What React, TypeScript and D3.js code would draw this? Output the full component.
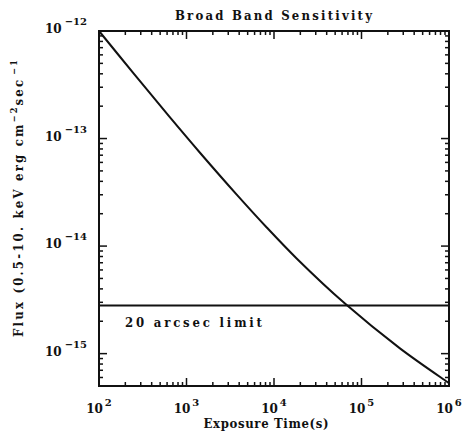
import * as d3 from 'd3';

// exposure time (s) vs. limiting flux
const exposureTimes = [100, 247, 620, 1426, 3750, 8260, 18150, 64700, 275000, 940000, 1000000];
const fluxValues = [1e-12, 4.06e-13, 1.64e-13, 7.38e-14, 3.01e-14, 1.49e-14, 7.67e-15, 2.92e-15, 1.12e-15, 5.51e-16, 5.32e-16];

const limitFlux = 2.8e-15;
const limitLabel = '20  arcsec  limit';

const xDomain = [1e2, 1e6];
const yDomain = [5e-16, 1e-12];
const xMajorExps = ['2', '3', '4', '5', '6'];
const yMajorExps = ['−12', '−13', '−14', '−15'];

const title = 'Broad  Band  Sensitivity';
const xTitle = 'Exposure  Time(s)';

const FONT = "'DejaVu Serif', 'Liberation Serif', serif";
const INK = '#111';

export default function App() {
  const margin = { left: 99, top: 31, right: 449, bottom: 386 };
  const x = d3.scaleLog().domain(xDomain).range([margin.left, margin.right]);
  const y = d3.scaleLog().domain(yDomain).range([margin.bottom, margin.top]);

  const line = d3
    .line<number>()
    .x((_d, i) => x(exposureTimes[i]))
    .y((d) => y(d))
    .curve(d3.curveCatmullRom.alpha(0.5));

  const isMajor = (v: number) => Math.abs(Math.log10(v) - Math.round(Math.log10(v))) < 1e-6;
  const xTicks = x.ticks();
  const yTicks = y.ticks();
  const majorLen = 8;
  const minorLen = 4;

  return (
    <svg width={469} height={445} style={{ display: 'block', position: 'absolute', left: 0, top: 0 }}>
      <rect width={469} height={445} fill="#fff" />

      <text x={273.5} y={19.5} fontFamily={FONT} fontWeight="bold" fontSize={13} fontStretch="condensed"
        textAnchor="middle" textLength={197} lengthAdjust="spacing" fill={INK}>
        {title}
      </text>

      {/* x ticks, bottom and top, pointing inward */}
      {xTicks.map((t, i) => {
        const len = isMajor(t) ? majorLen : minorLen;
        return (
          <g key={'xt' + i} stroke={INK} strokeWidth={1.5}>
            <line x1={x(t)} x2={x(t)} y1={margin.bottom} y2={margin.bottom - len} />
            <line x1={x(t)} x2={x(t)} y1={margin.top} y2={margin.top + len} />
          </g>
        );
      })}
      {yTicks.map((t, i) => {
        const len = isMajor(t) ? majorLen : minorLen;
        return (
          <g key={'yt' + i} stroke={INK} strokeWidth={1.5}>
            <line x1={margin.left} x2={margin.left + len} y1={y(t)} y2={y(t)} />
            <line x1={margin.right} x2={margin.right - len} y1={y(t)} y2={y(t)} />
          </g>
        );
      })}

      {/* tick labels */}
      {xMajorExps.map((e) => (
        <text key={'xl' + e} x={x(Math.pow(10, +e))} y={413} textAnchor="middle"
          fontFamily={FONT} fontWeight="bold" fontSize={12} fill={INK}>
          10
          <tspan dx={2} dy={-7} fontSize={10}>{e}</tspan>
        </text>
      ))}
      {yMajorExps.map((e) => (
        <text key={'yl' + e} x={87} y={y(Math.pow(10, -+e.replace('−', ''))) + 2} textAnchor="end"
          fontFamily={FONT} fontWeight="bold" fontSize={12} fill={INK}>
          10
          <tspan dx={3} dy={-8} fontSize={10}>{e}</tspan>
        </text>
      ))}

      {/* frame */}
      <rect x={margin.left} y={margin.top} width={margin.right - margin.left} height={margin.bottom - margin.top}
        fill="none" stroke={INK} strokeWidth={2} />

      {/* limit line */}
      <line x1={margin.left} x2={margin.right} y1={y(limitFlux)} y2={y(limitFlux)} stroke={INK} strokeWidth={2} />
      <text x={125} y={y(limitFlux) + 21} fontFamily={FONT} fontWeight="bold" fontSize={13} fontStretch="condensed"
        textLength={137} lengthAdjust="spacing" fill={INK}>
        {limitLabel}
      </text>

      {/* sensitivity curve */}
      <path d={line(fluxValues) ?? ''} fill="none" stroke={INK} strokeWidth={2} />

      <text x={266} y={428} textAnchor="middle" fontFamily={FONT} fontWeight="bold" fontSize={13} fontStretch="condensed"
        textLength={125} lengthAdjust="spacing" fill={INK}>
        {xTitle}
      </text>

      <g transform="translate(23,198.5) rotate(-90)">
        <text x={0} y={0} textAnchor="middle" fontFamily={FONT} fontWeight="bold" fontSize={13} fontStretch="condensed"
          textLength={277} lengthAdjust="spacing" fill={INK}>
          {'Flux  (0.5-10.  keV  erg  cm'}
          <tspan dy={-6} fontSize={9}>−2</tspan>
          <tspan dy={6}>sec</tspan>
          <tspan dx={3} dy={-6} fontSize={9}>−1</tspan>
        </text>
      </g>
    </svg>
  );
}
